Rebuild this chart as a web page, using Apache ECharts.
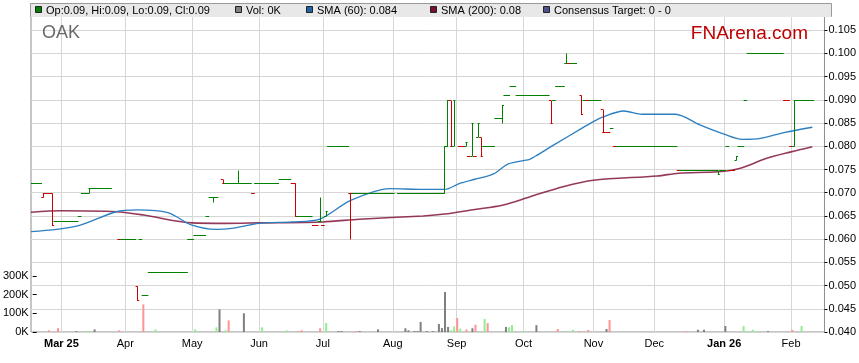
<!DOCTYPE html>
<html><head><meta charset="utf-8">
<script src="https://cdn.jsdelivr.net/npm/echarts@6.0.0/dist/echarts.min.js"></script>
<style>html,body{margin:0;padding:0;background:#fff}#c{width:859px;height:363px}</style>
</head><body><div id="c"></div><script>
// ---- data ----
const startDay = '2025-02-17';           // first weekday shown
// daily OHLC, one entry per weekday: number = flat bar, [O,H,L,C], null = no bar
const prices = [
 0.072,0.072,0.072,0.072,[0.069,0.070,0.069,0.070],              // Feb 17
 0.070,0.070,[0.070,0.070,0.063,0.063],0.064,0.064,              // Feb 24
 0.064,0.064,0.064,0.064,0.064,                                  // Mar 3
 0.064,0.065,0.070,0.070,[0.070,0.071,0.070,0.071],              // Mar 10
 0.071,0.071,0.071,0.071,0.071,                                  // Mar 17
 0.071,0.071,null,null,0.060,                                    // Mar 24
 0.060,0.060,0.060,0.060,0.060,                                  // Mar 31
 [0.050,0.050,0.047,0.047],0.060,0.048,0.048,0.053,              // Apr 7
 0.053,0.053,0.053,0.053,0.053,                                  // Apr 14
 0.053,0.053,0.053,0.053,0.053,                                  // Apr 21
 0.053,0.053,0.060,0.060,0.061,                                  // Apr 28
 0.061,0.061,0.061,0.065,0.069,                                  // May 5
 [0.069,0.069,0.068,0.069],0.069,null,[0.073,0.073,0.072,0.072],0.072, // May 12
 0.072,0.072,0.072,[0.072,0.075,0.072,0.072],0.072,              // May 19
 0.072,0.072,0.072,0.070,0.072,                                  // May 26
 0.072,0.072,0.072,0.072,0.072,                                  // Jun 2
 0.072,0.072,0.073,0.073,0.073,                                  // Jun 9
 0.073,0.072,[0.072,0.072,0.065,0.065],0.065,0.065,              // Jun 16
 0.065,0.065,0.065,0.063,0.063,                                  // Jun 23
 [0.064,0.069,0.064,0.064],0.063,[0.065,0.066,0.065,0.066],0.080,0.080, // Jun 30
 0.080,0.080,0.080,0.080,0.080,                                  // Jul 7
 [0.070,0.070,0.060,0.070],0.070,0.070,0.070,0.070,              // Jul 14
 0.070,0.070,0.070,0.070,0.070,                                  // Jul 21
 0.070,0.070,0.070,0.070,0.070,                                  // Jul 28
 null,0.070,0.070,0.070,0.070,                                   // Aug 4
 0.070,0.070,0.070,0.070,0.070,                                  // Aug 11
 0.070,0.070,0.070,0.070,0.070,                                  // Aug 18
 0.070,[0.070,0.080,0.070,0.080],[0.080,0.090,0.080,0.090],[0.090,0.090,0.080,0.080],[0.080,0.090,0.080,0.090], // Aug 25
 null,0.080,0.080,[0.080,0.081,0.080,0.081],0.078,               // Sep 1
 [0.078,0.085,0.078,0.085],0.078,[0.082,0.085,0.082,0.085],[0.082,0.082,0.078,0.078],0.080, // Sep 8
 0.080,0.080,0.080,0.086,0.086,                                  // Sep 15
 [0.086,0.089,0.085,0.089],0.091,0.091,0.093,0.093,              // Sep 22
 0.091,0.091,0.091,0.091,0.091,                                  // Sep 29
 0.091,0.091,0.091,0.091,0.091,                                  // Oct 6
 0.091,[0.090,0.090,0.085,0.085],0.090,0.093,0.093,              // Oct 13
 0.093,[0.098,0.100,0.098,0.098],0.098,0.098,0.098,              // Oct 20
 null,[0.091,0.091,0.087,0.087],0.090,0.090,0.090,               // Oct 27
 0.090,0.090,0.090,[0.088,0.088,0.083,0.083],0.083,              // Nov 3
 0.083,0.084,0.080,0.080,0.080,                                  // Nov 10
 0.080,0.080,0.080,0.080,0.080,                                  // Nov 17
 0.080,0.080,0.080,0.080,0.080,                                  // Nov 24
 0.080,0.080,0.080,0.080,0.080,                                  // Dec 1
 0.080,0.080,0.080,0.075,0.075,                                  // Dec 8
 0.075,0.075,0.075,0.075,0.075,                                  // Dec 15
 0.075,0.075,0.075,0.075,0.075,                                  // Dec 22
 0.075,[0.075,0.075,0.074,0.074],0.075,0.075,0.080,              // Dec 29
 0.075,0.075,[0.077,0.078,0.077,0.078],0.080,0.080,              // Jan 5
 0.090,0.100,0.100,0.100,0.100,                                  // Jan 12
 0.100,0.100,0.100,0.100,0.100,                                  // Jan 19
 0.100,0.100,0.100,0.090,0.090,                                  // Jan 26
 0.080,[0.080,0.090,0.080,0.090],0.090,0.090,0.090,              // Feb 2
 0.090,0.090,0.090,null,null,                                    // Feb 9
 null,null                                                       // Feb 16
];
// days drawn in red (down days)
const downDays = ['2025-02-21','2025-02-24','2025-02-25','2025-02-26','2025-03-28','2025-04-07',
 '2025-05-15','2025-05-29','2025-06-17','2025-06-18','2025-06-26','2025-06-27','2025-07-01','2025-07-14',
 '2025-08-28','2025-09-02','2025-09-03','2025-09-05','2025-09-09','2025-09-11','2025-10-14','2025-10-22',
 '2025-10-28','2025-10-30','2025-11-06','2025-11-07','2025-11-10','2025-11-12','2025-12-11',
 '2026-01-05','2026-01-06','2026-01-29','2026-01-30','2026-02-02'];
// volume: [date, shares, u=up / d=down / n=unchanged]
const volumes = [
 ['2025-02-21',9000,'d'],['2025-02-26',21000,'d'],['2025-03-06',5000,'n'],['2025-03-11',5000,'u'],
 ['2025-03-12',5000,'u'],['2025-03-14',14000,'n'],['2025-03-26',9000,'d'],['2025-04-07',148000,'d'],
 ['2025-04-11',14000,'u'],['2025-04-30',14000,'u'],['2025-05-09',25000,'u'],['2025-05-12',121000,'n'],
 ['2025-05-14',9000,'u'],['2025-05-15',62000,'d'],['2025-05-22',100000,'n'],['2025-05-30',25000,'u'],
 ['2025-06-11',9000,'u'],['2025-06-17',4000,'d'],['2025-06-18',9000,'d'],['2025-06-26',20000,'d'],
 ['2025-06-30',48000,'u'],['2025-07-04',5000,'n'],['2025-07-07',5000,'n'],['2025-07-14',5000,'d'],
 ['2025-07-15',5000,'n'],['2025-07-23',14000,'n'],['2025-08-05',20000,'n'],['2025-08-06',9000,'n'],
 ['2025-08-08',5000,'n'],['2025-08-11',5000,'n'],['2025-08-12',54000,'n'],['2025-08-14',5000,'n'],
 ['2025-08-18',5000,'n'],['2025-08-20',43000,'n'],['2025-08-21',21000,'n'],['2025-08-22',214000,'n'],
 ['2025-08-25',27000,'n'],['2025-08-26',9000,'u'],['2025-08-27',30000,'u'],['2025-08-28',75000,'d'],
 ['2025-08-29',18000,'u'],['2025-09-02',14000,'d'],['2025-09-04',20000,'n'],['2025-09-05',39000,'d'],
 ['2025-09-08',4000,'u'],['2025-09-10',70000,'u'],['2025-09-11',48000,'d'],['2025-09-19',27000,'n'],
 ['2025-09-22',25000,'u'],['2025-09-23',37000,'u'],['2025-09-29',5000,'u'],['2025-10-03',37000,'n'],
 ['2025-10-14',16000,'d'],['2025-10-16',5000,'u'],['2025-10-21',11000,'u'],['2025-10-23',5000,'d'],
 ['2025-10-28',11000,'d'],['2025-11-05',16000,'n'],['2025-11-06',64000,'d'],['2025-12-11',5000,'d'],
 ['2025-12-17',12000,'n'],['2025-12-19',12000,'n'],['2025-12-30',32000,'n'],['2026-01-07',32000,'u'],
 ['2026-01-09',5000,'u'],['2026-01-12',12000,'u'],['2026-01-14',5000,'u'],['2026-01-19',5000,'n'],
 ['2026-01-29',11000,'d'],['2026-02-03',32000,'u']
];
const sma60 = [
 ['2025-02-17',0.0616],['2025-03-10',0.0628],['2025-03-27',0.0659],['2025-04-07',0.0663],['2025-04-21',0.0657],
 ['2025-05-01',0.0630],['2025-05-13',0.0621],['2025-05-20',0.0623],['2025-06-02',0.0634],['2025-06-17',0.0637],
 ['2025-06-30',0.0643],['2025-07-14',0.0683],['2025-07-31',0.0709],['2025-08-15',0.0707],['2025-08-26',0.0707],
 ['2025-09-02',0.0720],['2025-09-09',0.0729],['2025-09-17',0.0740],['2025-09-24',0.0762],['2025-10-03',0.0772],
 ['2025-10-07',0.0779],['2025-10-15',0.0803],['2025-10-28',0.0838],['2025-11-03',0.0853],['2025-11-06',0.0863],
 ['2025-11-17',0.0876],['2025-11-25',0.0869],['2025-12-10',0.0869],['2025-12-22',0.0846],['2026-01-01',0.0826],
 ['2026-01-09',0.0815],['2026-01-19',0.0817],['2026-01-29',0.0830],['2026-02-11',0.0841]
];
const sma200 = [
 ['2025-02-17',0.0658],['2025-03-03',0.0661],['2025-03-27',0.0659],['2025-04-09',0.0652],['2025-05-01',0.0635],
 ['2025-05-16',0.0634],['2025-06-02',0.0635],['2025-07-01',0.0637],['2025-07-17',0.0643],['2025-08-15',0.0650],
 ['2025-08-26',0.0654],['2025-09-09',0.0664],['2025-09-22',0.0673],['2025-10-03',0.0691],['2025-10-20',0.0713],
 ['2025-11-03',0.0727],['2025-12-02',0.0736],['2025-12-11',0.0742],['2025-12-30',0.0745],['2026-01-08',0.0752],
 ['2026-01-21',0.0774],['2026-02-02',0.0788],['2026-02-11',0.0799]
];
const legendItems = [
 ['Op:0.09, Hi:0.09, Lo:0.09, Cl:0.09','#008000'],
 ['Vol: 0K','#808080'],
 ['SMA (60): 0.084','#1e64a8'],
 ['SMA (200): 0.08','#7a0f2e'],
 ['Consensus Target: 0 - 0','#50508a']
];
const ticker = 'OAK';
const brand = 'FNArena.com';
const monthNames = ['Jan','Feb','Mar','Apr','May','Jun','Jul','Aug','Sep','Oct','Nov','Dec'];

// ---- weekday category axis ----
const categories = [];
{ const d = new Date(startDay + 'T00:00:00Z');
  while (categories.length < prices.length) {
    const wd = d.getUTCDay();
    if (wd !== 0 && wd !== 6) categories.push(d.toISOString().slice(0,10));
    d.setUTCDate(d.getUTCDate() + 1);
  } }
const isMonthStart = (i) => i > 0 && categories[i].slice(0,7) !== categories[i-1].slice(0,7);
let firstLabel = -1;
for (let i = 0; i < categories.length; i++) if (isMonthStart(i)) { firstLabel = i; break; }

const downSet = new Set(downDays);
const ohlc = [];
prices.forEach((p, i) => {
  if (p === null) return;
  const r = Array.isArray(p) ? p : [p,p,p,p];
  ohlc.push([i, r[0], r[1], r[2], r[3], downSet.has(categories[i]) ? 1 : 0]);
});

const FONT = '"Liberation Sans", Arial, sans-serif';
const GREEN = '#008000', RED = '#cc0000';
const volColor = { u: '#90ee90', d: '#ff9494', n: '#7f7f7f' };

const chart = echarts.init(document.getElementById('c'), null, { renderer: 'canvas' });

const legendGraphics = [];
const legendX = [35, 235, 306, 430, 543];
legendItems.forEach((it, k) => {
  legendGraphics.push({ type: 'rect', z: 101, shape: { x: legendX[k] + 0.5, y: 6.5, width: 6, height: 6 },
    style: { fill: it[1], stroke: '#222', lineWidth: 1 } });
  legendGraphics.push({ type: 'text', z: 101, style: { x: legendX[k] + 11, y: 10.5, text: it[0], font: '11px ' + FONT,
    fill: '#000', textVerticalAlign: 'middle' } });
});

const option = {
  animation: false,
  backgroundColor: '#fff',
  grid: [
    { left: 31, right: 27, top: 7, bottom: 31, show: true, borderColor: '#8c8c8c', borderWidth: 1, backgroundColor: 'transparent' },
    { left: 31, right: 27, top: 276, bottom: 31, show: false }
  ],
  xAxis: [
    { type: 'category', gridIndex: 0, data: categories, boundaryGap: false,
      axisLine: { show: false }, axisTick: { show: false },
      axisLabel: { interval: (i) => isMonthStart(i), margin: 6, color: '#000', fontSize: 11, fontFamily: FONT,
        formatter: (v, i) => {
          const m = +v.slice(5,7) - 1;
          if (m === 0 || i === firstLabel) return '{b|' + monthNames[m] + ' ' + v.slice(2,4) + '}';
          return monthNames[m];
        },
        rich: { b: { fontWeight: 'bold', fontSize: 11, fontFamily: FONT, color: '#000' } } },
      splitLine: { show: true, interval: (i) => isMonthStart(i), lineStyle: { color: '#d6d6d6', width: 1 } } },
    { type: 'category', gridIndex: 1, data: categories, boundaryGap: false, show: false }
  ],
  yAxis: [
    { type: 'value', gridIndex: 0, position: 'right', min: 0.04, max: 0.11, interval: 0.005,
      axisLine: { show: false }, axisTick: { show: true, length: 3, lineStyle: { color: '#000' } },
      axisLabel: { margin: 4, color: '#000', fontSize: 11, fontFamily: FONT,
        formatter: (v) => v > 0.1051 ? '' : v.toFixed(3) },
      splitLine: { show: true, lineStyle: { color: '#d6d6d6', width: 1 } } },
    { type: 'value', gridIndex: 1, position: 'left', min: 0, max: 300000, interval: 100000,
      axisLine: { show: false }, axisTick: { show: true, length: 4, lineStyle: { color: '#000' } },
      axisLabel: { margin: 8, color: '#000', fontSize: 11, fontFamily: FONT, formatter: (v) => (v / 1000) + 'K' },
      splitLine: { show: false } }
  ],
  series: [
    { type: 'bar', xAxisIndex: 1, yAxisIndex: 1, barWidth: 2, z: 1,
      data: volumes.map(v => ({ value: [v[0], v[1]], itemStyle: { color: volColor[v[2]] } })) },
    { type: 'line', name: 'SMA200', xAxisIndex: 0, yAxisIndex: 0, data: sma200, smooth: 0.3, symbol: 'none',
      lineStyle: { color: '#8a2448', width: 1.6, opacity: 0.9 }, z: 3 },
    { type: 'line', name: 'SMA60', xAxisIndex: 0, yAxisIndex: 0, data: sma60, smooth: 0.3, symbol: 'none',
      lineStyle: { color: '#2b7fc0', width: 1.3 }, z: 3 },
    { type: 'custom', xAxisIndex: 0, yAxisIndex: 0, data: ohlc, z: 4, clip: true,
      encode: { x: 0, y: [1, 2, 3, 4] },
      renderItem: (params, api) => {
        const i = api.value(0);
        const pO = api.coord([i, api.value(1)]), pH = api.coord([i, api.value(2)]);
        const pL = api.coord([i, api.value(3)]), pC = api.coord([i, api.value(4)]);
        const half = api.size([1, 0])[0] / 2;
        const color = api.value(5) ? RED : GREEN;
        const xr = pO[0];
        const xv = Math.round(xr) + 0.5;
        const ry = (y) => Math.round(y) + 0.5;
        const st = { stroke: color, lineWidth: 1 };
        const ch = [
          { type: 'line', shape: { x1: xr - half - 0.3, y1: ry(pO[1]), x2: xr + 0.3, y2: ry(pO[1]) }, style: st },
          { type: 'line', shape: { x1: xr - 0.3, y1: ry(pC[1]), x2: xr + half + 0.3, y2: ry(pC[1]) }, style: st }
        ];
        if (Math.abs(pH[1] - pL[1]) > 0.5)
          ch.push({ type: 'line', shape: { x1: xv, y1: ry(pH[1]), x2: xv, y2: ry(pL[1]) }, style: st });
        return { type: 'group', children: ch };
      } }
  ],
  graphic: [
    { type: 'rect', z: 100, shape: { x: 30.5, y: 3.5, width: 801, height: 13 },
      style: { fill: '#e8e8e8', stroke: '#9a9a9a', lineWidth: 1 } },
    { type: 'rect', z: 100, shape: { x: 31, y: 16, width: 800, height: 1 }, style: { fill: '#e8e8e8' } },
    ...legendGraphics,
    { type: 'text', z: 100, style: { x: 42, y: 33.5, text: ticker, font: '18px ' + FONT, fill: '#6a6a6a', textVerticalAlign: 'middle' } },
    { type: 'text', z: 100, style: { x: 808, y: 33.5, text: brand, font: '19px ' + FONT, fill: '#c00000', textAlign: 'right', textVerticalAlign: 'middle' } }
  ]
};
chart.setOption(option);
</script></body></html>
